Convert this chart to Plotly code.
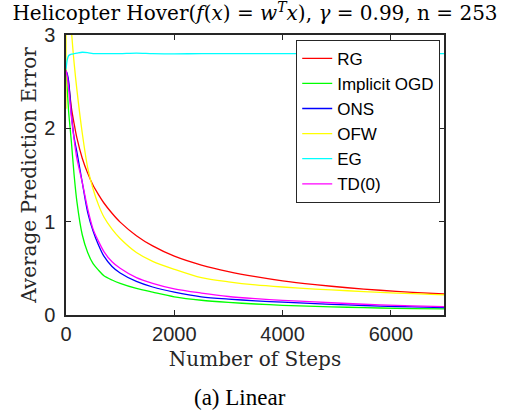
import plotly.graph_objects as go

# ---- data ----
steps = [0, 25, 50, 100, 150, 200, 300, 400, 500, 600, 700, 850, 1000, 1300, 1600, 2000,
         2500, 3000, 3500, 4000, 4600, 5200, 5800, 6400, 6980]

rg = [2.62, 2.56, 2.47, 2.22, 2.05, 1.90, 1.68, 1.52, 1.39, 1.29, 1.20, 1.09, 0.995, 0.85, 0.74, 0.63,
      0.535, 0.465, 0.41, 0.365, 0.325, 0.292, 0.265, 0.243, 0.225]
implicit_ogd = [2.63, 2.40, 2.17, 1.85, 1.50, 1.22, 0.86, 0.67, 0.55, 0.48, 0.42, 0.375, 0.34, 0.285, 0.245, 0.195,
                0.158, 0.135, 0.118, 0.104, 0.093, 0.083, 0.075, 0.069, 0.065]
ons = [2.62, 2.58, 2.50, 2.15, 1.90, 1.75, 1.42, 1.10, 0.90, 0.75, 0.63, 0.52, 0.45, 0.36, 0.30, 0.245,
       0.195, 0.17, 0.152, 0.137, 0.122, 0.108, 0.096, 0.086, 0.078]
td0 = [2.62, 2.55, 2.42, 2.12, 1.88, 1.68, 1.42, 1.14, 0.92, 0.79, 0.68, 0.57, 0.50, 0.40, 0.34, 0.28,
       0.235, 0.198, 0.175, 0.157, 0.140, 0.123, 0.108, 0.097, 0.089]
eg = [2.63, 2.74, 2.78, 2.795, 2.80, 2.805, 2.815, 2.81, 2.80, 2.80, 2.80, 2.80, 2.80, 2.805, 2.80, 2.798,
      2.80, 2.80, 2.80, 2.80, 2.80, 2.80, 2.80, 2.80, 2.80]

ofw_steps = [0, 12, 50, 100, 150, 200, 300, 400, 500, 600, 700, 850, 1000, 1300, 1600, 2000,
             2500, 3000, 3500, 4000, 4600, 5200, 5800, 6400, 6980]
ofw = [2.21, 4.2, 3.55, 3.05, 2.70, 2.42, 1.95, 1.58, 1.35, 1.18, 1.05, 0.92, 0.82, 0.67, 0.575, 0.49,
       0.40, 0.355, 0.322, 0.30, 0.278, 0.26, 0.243, 0.228, 0.215]

series_names = ["RG", "Implicit OGD", "ONS", "OFW", "EG", "TD(0)"]
series_colors = ["#FF0000", "#00FF00", "#0000FF", "#FFFF00", "#00FFFF", "#FF00FF"]
series_x = [steps, steps, steps, ofw_steps, steps, steps]
series_y = [rg, implicit_ogd, ons, ofw, eg, td0]

x_ticks = [0, 2000, 4000, 6000]
y_ticks = [0, 1, 2, 3]

title_text = ("Helicopter Hover(<i>f</i>(<i>x</i>) = <i>w</i><sup><i>T</i></sup><i>x</i>), "
              "<i>γ</i> = 0.99, n = 253")
x_title = "Number of Steps"
y_title = "Average Prediction Error"
caption = "(a) Linear"

# ---- figure ----
fig = go.Figure()
for name, color, xs, ys in zip(series_names, series_colors, series_x, series_y):
    fig.add_trace(go.Scatter(x=xs, y=ys, mode="lines", name=name,
                             line=dict(color=color, width=1.3, shape="spline", smoothing=0.8)))

axis_color = "#262626"
serif_wide = "DejaVu Serif, serif"
serif = "Liberation Serif, Times New Roman, serif"
sans = "Liberation Sans, Arial, sans-serif"

fig.update_layout(
    width=506, height=412,
    margin=dict(l=66, r=62, t=35, b=97, autoexpand=False),
    paper_bgcolor="white", plot_bgcolor="white",
    showlegend=True,
    legend=dict(x=0.99, y=0.983, xanchor="right", yanchor="top",
                bgcolor="white", bordercolor=axis_color, borderwidth=1,
                font=dict(family=sans, size=17, color="black"),
                itemwidth=30, tracegroupgap=0),
    title=dict(text=title_text, x=0.5, xanchor="center", xref="paper",
               y=0.985, yanchor="top",
               font=dict(family=serif_wide, size=20, color="black")),
)
fig.update_xaxes(range=[0, 6980], tickvals=x_ticks, ticks="inside", ticklen=5,
                 tickcolor=axis_color, showline=True, linecolor=axis_color, linewidth=1.5,
                 mirror="allticks", showgrid=False, zeroline=False, automargin=False,
                 tickfont=dict(family=sans, size=20, color=axis_color),
                 title=dict(text=x_title, font=dict(family=serif_wide, size=20, color=axis_color),
                            standoff=8))
fig.update_yaxes(range=[0, 3], tickvals=y_ticks, ticks="inside", ticklen=5,
                 tickcolor=axis_color, showline=True, linecolor=axis_color, linewidth=1.5,
                 mirror="allticks", showgrid=False, zeroline=False, automargin=False,
                 ticklabelstandoff=5,
                 tickfont=dict(family=sans, size=20, color=axis_color),
                 title=dict(text=y_title, font=dict(family=serif_wide, size=20, color=axis_color),
                            standoff=2))
fig.add_annotation(text=caption, xref="paper", yref="paper", x=0.46, y=-0.296,
                   xanchor="center", yanchor="middle", showarrow=False,
                   font=dict(family=serif, size=23, color="black"))

fig.write_html("out.html", config={"displayModeBar": False},
               post_script="document.body.style.margin='0px';document.body.style.overflow='hidden';")
